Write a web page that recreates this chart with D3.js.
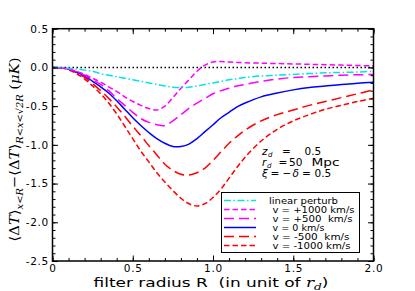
<!DOCTYPE html>
<html>
<head>
<meta charset="utf-8">
<script src="https://cdn.jsdelivr.net/npm/d3@7"></script>
<style>
  body { margin: 0; background: #fff; }
  svg { display: block; }
  text { font-family: "DejaVu Sans", sans-serif; }
  .serif { font-family: "DejaVu Serif", "Liberation Serif", serif; }
</style>
</head>
<body>
<div id="chart"></div>
<script>
// filter radius R (units of r_d)
var radius = [0, 0.05, 0.1, 0.15, 0.2, 0.25, 0.3, 0.35, 0.4, 0.45, 0.5, 0.55, 0.6, 0.65, 0.7, 0.75,
    0.8, 0.85, 0.9, 0.95, 1.0, 1.05, 1.1, 1.15, 1.2, 1.3, 1.4, 1.5, 1.6, 1.7, 1.8, 1.9, 2.0];

var linearPerturb = [0, 0, -0.01, -0.02, -0.035, -0.05, -0.08, -0.10, -0.12, -0.14, -0.16, -0.18, -0.20, -0.22, -0.24, -0.255,
    -0.26, -0.255, -0.24, -0.22, -0.20, -0.18, -0.16, -0.145, -0.13, -0.11, -0.10, -0.09, -0.08, -0.07, -0.065, -0.06, -0.05];
var vPlus1000 = [0, -0.005, -0.02, -0.05, -0.09, -0.14, -0.19, -0.25, -0.31, -0.38, -0.44, -0.49, -0.53, -0.55, -0.50, -0.39,
    -0.27, -0.16, -0.05, 0.03, 0.07, 0.075, 0.07, 0.065, 0.06, 0.055, 0.05, 0.045, 0.04, 0.035, 0.03, 0.025, 0.02];
var vPlus500 = [0, -0.005, -0.02, -0.055, -0.10, -0.16, -0.22, -0.30, -0.40, -0.49, -0.58, -0.66, -0.71, -0.74, -0.75, -0.69,
    -0.61, -0.53, -0.46, -0.40, -0.34, -0.30, -0.27, -0.24, -0.22, -0.18, -0.15, -0.13, -0.12, -0.11, -0.10, -0.095, -0.09];
var vZero = [0, -0.005, -0.02, -0.06, -0.11, -0.18, -0.25, -0.33, -0.43, -0.54, -0.65, -0.75, -0.84, -0.92, -0.98, -1.02,
    -1.02, -0.99, -0.92, -0.83, -0.74, -0.65, -0.58, -0.51, -0.46, -0.38, -0.33, -0.29, -0.26, -0.24, -0.22, -0.205, -0.19];
var vMinus500 = [0, -0.005, -0.025, -0.07, -0.13, -0.21, -0.30, -0.40, -0.51, -0.63, -0.76, -0.88, -1.01, -1.13, -1.25, -1.33,
    -1.38, -1.39, -1.36, -1.30, -1.20, -1.09, -0.98, -0.89, -0.81, -0.69, -0.61, -0.55, -0.49, -0.44, -0.39, -0.34, -0.29];
var vMinus1000 = [0, -0.005, -0.03, -0.08, -0.15, -0.24, -0.34, -0.46, -0.60, -0.76, -0.92, -1.08, -1.22, -1.36, -1.48, -1.59,
    -1.69, -1.76, -1.79, -1.76, -1.68, -1.57, -1.43, -1.29, -1.16, -0.95, -0.80, -0.69, -0.61, -0.54, -0.49, -0.44, -0.40];

var seriesLabels = ['linear perturb', 'v = +1000 km/s', 'v = +500  km/s', 'v = 0 km/s', 'v = -500  km/s', 'v = -1000 km/s'];
var xTicks = [0, 0.5, 1.0, 1.5, 2.0];
var xTickLabels = ['0', '0.5', '1.0', '1.5', '2.0'];
var yTicks = [0.5, 0.0, -0.5, -1.0, -1.5, -2.0, -2.5];

var W = 415, H = 291;
var margin = { left: 52.5, right: 41.5, top: 28.7, bottom: 30 };

var svg = d3.select('#chart').append('svg').attr('width', W).attr('height', H);

var x = d3.scaleLinear().domain([0, 2]).range([margin.left, W - margin.right]);
var y = d3.scaleLinear().domain([-2.5, 0.5]).range([H - margin.bottom, margin.top]);

var styles = [
    { color: '#00e5e5', dash: '7,2.5,1.5,2.5' },
    { color: '#ff00ff', dash: '5.5,3' },
    { color: '#ff00ff', dash: '10,5' },
    { color: '#0000ff', dash: null },
    { color: '#ff0000', dash: '10,5' },
    { color: '#ff0000', dash: '5.5,3' }
];
var allSeries = [linearPerturb, vPlus1000, vPlus500, vZero, vMinus500, vMinus1000];

// zero line
svg.append('line')
    .attr('x1', x(0)).attr('x2', x(2))
    .attr('y1', y(0)).attr('y2', y(0))
    .attr('stroke', '#000').attr('stroke-width', 1.5)
    .attr('stroke-dasharray', '1.5,2.5');

var line = d3.line()
    .x(function (d, i) { return x(radius[i]); })
    .y(function (d) { return y(d); })
    .curve(d3.curveCatmullRom.alpha(0.5));

// draw in reverse so linear perturb ends up on top
for (var s = allSeries.length - 1; s >= 0; s--) {
    svg.append('path')
        .attr('d', line(allSeries[s]))
        .attr('fill', 'none')
        .attr('stroke', styles[s].color)
        .attr('stroke-width', 1.5)
        .attr('stroke-dasharray', styles[s].dash);
}

// axes with inward ticks on all four sides
function tickAxis(axisFn, scale, pos, major, minor, fmt) {
    var g = svg.append('g').attr('transform', pos);
    g.call(axisFn(scale).tickValues(minor).tickSize(3).tickFormat(''));
    g.select('.domain').remove();
    var g2 = svg.append('g').attr('transform', pos);
    g2.call(axisFn(scale).tickValues(major).tickSize(5.5).tickFormat(fmt || ''));
    g2.select('.domain').remove();
    [g, g2].forEach(function (gg) {
        gg.selectAll('line').attr('stroke', '#000').attr('stroke-width', 1);
    });
    return g2;
}

var xMinor = d3.range(0, 21).map(function (i) { return i / 10; });
var yMinor = d3.range(-25, 6).map(function (i) { return i / 10; });

var gx = tickAxis(d3.axisTop, x, 'translate(0,' + y(-2.5) + ')', xTicks, xMinor, function (d, i) { return xTickLabels[i]; });
gx.selectAll('text').attr('y', 11.2).attr('dy', null)
    .style('font-size', '10.5px').style('letter-spacing', '0.7px').attr('fill', '#000');
tickAxis(d3.axisBottom, x, 'translate(0,' + y(0.5) + ')', xTicks, xMinor);

var gy = tickAxis(d3.axisRight, y, 'translate(' + x(0) + ',0)', yTicks, yMinor, d3.format('.1f'));
gy.selectAll('text').attr('x', -3.5).attr('text-anchor', 'end')
    .style('font-size', '10.5px').style('letter-spacing', '0.7px').attr('fill', '#000')
    .text(function (d) { return d3.format('.1f')(d).replace('\u2212', '-'); });
tickAxis(d3.axisLeft, y, 'translate(' + x(2) + ',0)', yTicks, yMinor);

// frame
svg.append('rect')
    .attr('x', x(0)).attr('y', y(0.5))
    .attr('width', x(2) - x(0)).attr('height', y(-2.5) - y(0.5))
    .attr('fill', 'none').attr('stroke', '#000').attr('stroke-width', 1.5);

// x label
var xl = svg.append('text')
    .attr('x', 93.5).attr('y', 286.5)
    .attr('textLength', 235).attr('lengthAdjust', 'spacingAndGlyphs')
    .style('font-size', '12.5px')
    .attr('xml:space', 'preserve');
xl.append('tspan').text('filter radius R  (in unit of ');
xl.append('tspan').attr('class', 'serif').style('font-style', 'italic').text('r');
xl.append('tspan').attr('class', 'serif').style('font-style', 'italic').style('font-size', '9px').attr('dy', 3).text('d');
xl.append('tspan').attr('dy', -3).text(')');

// y label
var yl = svg.append('text')
    .attr('class', 'serif')
    .attr('transform', 'translate(19,149.5) rotate(-90)')
    .attr('text-anchor', 'middle')
    .attr('textLength', 184).attr('lengthAdjust', 'spacingAndGlyphs')
    .style('font-size', '13.5px');
yl.append('tspan').text('\u27E8\u0394');
yl.append('tspan').style('font-style', 'italic').text('T');
yl.append('tspan').text('\u27E9');
yl.append('tspan').style('font-style', 'italic').style('font-size', '9px').attr('dy', 3.5).text('x<R');
yl.append('tspan').attr('dy', -3.5).text('\u2212\u27E8\u0394');
yl.append('tspan').style('font-style', 'italic').text('T');
yl.append('tspan').text('\u27E9');
yl.append('tspan').style('font-style', 'italic').style('font-size', '9px').attr('dy', 3.5).text('R<x<\u221A2R');
yl.append('tspan').attr('dy', -3.5).text(' (');
yl.append('tspan').style('font-style', 'italic').text('\u03BCK');
yl.append('tspan').text(')');

// parameter annotation, TeX-like spacing around the equals signs
var ann = svg.append('g').attr('class', 'serif').style('font-size', '10.5px');
function piece(t, px, str, italic, sub) {
    var ts = t.append('tspan').attr('x', px).text(str);
    if (italic) ts.style('font-style', 'italic');
    if (sub) ts.style('font-size', '7px').attr('y', +t.attr('y') + 2);
    else ts.attr('y', t.attr('y'));
    return ts;
}
var a1 = ann.append('text').attr('y', 154.5);
piece(a1, 262, 'z', true);
piece(a1, 268, 'd', true, true);
piece(a1, 282, '=');
piece(a1, 304.5, '0.5');
var a2 = ann.append('text').attr('y', 165.5);
piece(a2, 262, 'r', true);
piece(a2, 267, 'd', true, true);
piece(a2, 278.5, '=');
piece(a2, 289, '50');
piece(a2, 311.5, 'Mpc').attr('textLength', 28).attr('lengthAdjust', 'spacingAndGlyphs');
var a3 = ann.append('text').attr('y', 176.5);
piece(a3, 262, '\u03BE', true);
piece(a3, 270.5, '=');
piece(a3, 282.5, '\u2212');
piece(a3, 292.5, '\u03B4', true);
piece(a3, 302, '=');
piece(a3, 314.5, '0.5');

// legend
var legend = svg.append('g');
legend.append('rect')
    .attr('x', 221.5).attr('y', 192.5).attr('width', 138).attr('height', 60)
    .attr('fill', '#fff').attr('stroke', '#000').attr('stroke-width', 1);
var legendX = [269, 272.5, 272.5, 272.5, 272.5, 272.5];
var legendLen = [69, 82, 80, 52, 77, 78];
seriesLabels.forEach(function (label, i) {
    var ly = 200.5 + i * 9;
    legend.append('line')
        .attr('x1', 224).attr('x2', 256)
        .attr('y1', ly).attr('y2', ly)
        .attr('stroke', styles[i].color).attr('stroke-width', 1.5)
        .attr('stroke-dasharray', styles[i].dash);
    legend.append('text')
        .attr('x', legendX[i]).attr('y', ly + 3)
        .style('font-size', '8.5px')
        .attr('xml:space', 'preserve')
        .attr('textLength', legendLen[i]).attr('lengthAdjust', 'spacingAndGlyphs')
        .text(label);
});
</script>
</body>
</html>
